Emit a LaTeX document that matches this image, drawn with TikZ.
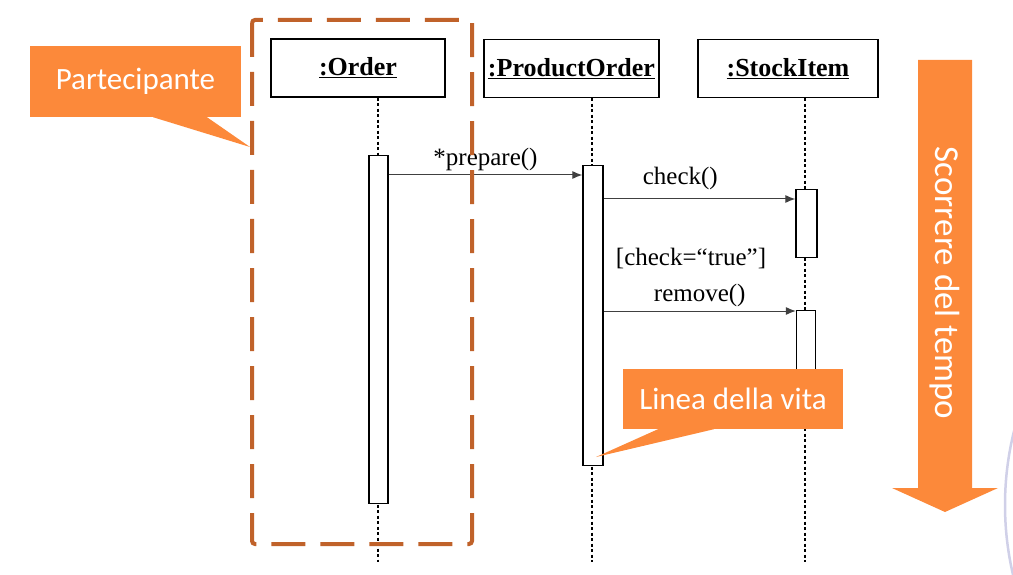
\documentclass[tikz,border=0pt]{standalone}
\usepackage{fontspec}
\setmainfont{Liberation Serif}
\newfontfamily\calloutfont{Carlito}
\usetikzlibrary{arrows.meta}

\definecolor{calloutorange}{RGB}{252,137,58}
\definecolor{framebrown}{RGB}{192,98,42}
\definecolor{logolilac}{RGB}{208,208,232}

\tikzset{
	objbox/.style={draw, line width=1.3pt, minimum width=174, minimum height=58, inner sep=0, font=\fontsize{26}{29}\selectfont\bfseries},
	actbox/.style={draw, fill=white, line width=1.3pt, minimum width=19, inner sep=0, anchor=north},
	lifeline/.style={line width=1.5pt, dash pattern=on 3pt off 2.5pt},
	msg/.style={-{Latex[length=10pt,width=8pt]}, line width=1pt, black!75},
	msglabel/.style={text=black, font=\fontsize{25}{29}\selectfont},
	callout/.style={fill=calloutorange, text=white, inner sep=0, font=\calloutfont\fontsize{31}{36}\selectfont}
}

\begin{document}
\begin{tikzpicture}[x=1pt,y=-1pt]
	\useasboundingbox (0,0) rectangle (1013,575);
	\def\lifeend{562}

	% oggetti
	\node[objbox] (order) at (358,68) {\underline{:Order}};
	\node[objbox, minimum width=175] (prodorder) at (571.5,68.5) {\underline{:ProductOrder}};
	\node[objbox, minimum width=180] (stock) at (788,68.5) {\underline{:StockItem}};

	% linee della vita
	\coordinate (orderend) at (378,\lifeend);
	\coordinate (prodend) at (592,\lifeend);
	\coordinate (stockend) at (805,\lifeend);
	\draw[lifeline] (orderend |- order.south) -- (orderend);
	\draw[lifeline] (prodend |- prodorder.south) -- (prodend);
	\draw[lifeline] (stockend |- stock.south) -- (stockend);

	% attivazioni
	\node[actbox, minimum height=348] (aorder) at (378.5,155) {};
	\node[actbox, minimum height=300, minimum width=20] (aprod) at (593,165) {};
	\node[actbox, minimum height=68, minimum width=21] (acheck) at (806.5,189) {};
	\node[actbox, minimum height=100] (aremove) at (806,310) {};

	% messaggi
	\coordinate (yprep) at (0,175);
	\coordinate (ycheck) at (0,199);
	\coordinate (yremove) at (0,311);
	\draw[msg] (aorder.east |- yprep) -- (aprod.west |- yprep) node[msglabel, midway, above] {*prepare()};
	\draw[msg] (aprod.east |- ycheck) -- (acheck.west |- ycheck) node[msglabel, pos=.4, above=5pt] {check()};
	\node[msglabel] (guard) at (691,258) {[check=“true”]};
	\draw[msg] (aprod.east |- yremove) -- (aremove.west |- yremove) node[msglabel, midway, above] {remove()};

	% partecipante
	\draw[framebrown, line width=4pt, dash pattern=on 34pt off 15pt, rounded corners=3pt] (252,20) rectangle (472,544);

	% etichette
	\node[callout, minimum width=211, minimum height=71] (partlab) at (135.5,81.5) {Partecipante};
	\coordinate (parttip) at (250,147);
	\fill[calloutorange] ([xshift=17.5pt]partlab.south) -- (parttip) -- ([xshift=71.5pt]partlab.south) -- cycle;

	\node[callout, minimum width=220, minimum height=60] (lifelab) at (733,399) {Linea della vita};
	\coordinate (lifetip) at (596,457);
	\fill[calloutorange] ([xshift=-75pt]lifelab.south) -- (lifetip) -- ([xshift=-19pt]lifelab.south) -- cycle;

	% tempo
	\fill[calloutorange] (918,60) -- (972,60) -- (972,488) -- (998,488) -- (945,512) -- (892,488) -- (918,488) -- cycle;
	\node[text=white, rotate=-90, font=\calloutfont\fontsize{35}{40}\selectfont] (tempo) at (945,283) {Scorrere del tempo};

	% logo
	\begin{scope}
		\clip (0,0) rectangle (1013,575);
		\draw[logolilac, line width=2.5pt] (1310,505) circle (305);
	\end{scope}
\end{tikzpicture}
\end{document}
